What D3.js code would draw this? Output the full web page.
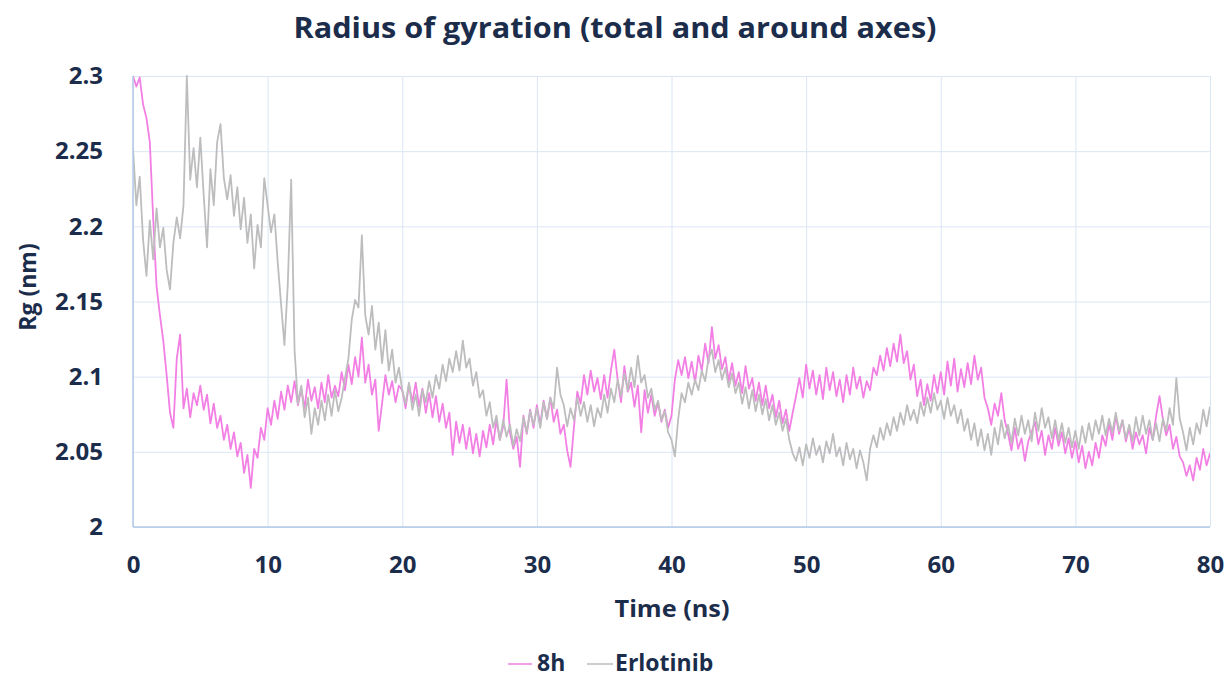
<!DOCTYPE html>
<html>
<head>
<meta charset="utf-8">
<script src="https://cdn.jsdelivr.net/npm/d3@7"></script>
<style>
  html, body { margin: 0; padding: 0; background: #ffffff; }
  svg { display: block; }
  text { font-family: "Open Sans", "Noto Sans", sans-serif; font-weight: 700; fill: #1b2d4b; }
</style>
</head>
<body>
<svg id="chart" width="1229" height="678"></svg>
<script>
// Radius of gyration, sampled every 0.25 ns from 0 to 80 ns
const timeStepNs = 0.25;

const rg8h = [
  2.300, 2.293, 2.299, 2.281, 2.272, 2.256, 2.205, 2.160, 2.141, 2.124, 2.101, 2.076, 2.066, 2.112, 2.128, 2.079, 2.092, 2.073, 2.089, 2.081,
  2.094, 2.078, 2.088, 2.069, 2.082, 2.066, 2.074, 2.058, 2.068, 2.052, 2.063, 2.047, 2.056, 2.036, 2.048, 2.026, 2.052, 2.046, 2.066, 2.058,
  2.079, 2.068, 2.084, 2.072, 2.090, 2.078, 2.094, 2.083, 2.097, 2.081, 2.092, 2.079, 2.098, 2.084, 2.093, 2.079, 2.096, 2.083, 2.101, 2.086,
  2.094, 2.087, 2.103, 2.091, 2.108, 2.095, 2.113, 2.100, 2.126, 2.096, 2.108, 2.088, 2.098, 2.064, 2.082, 2.101, 2.088, 2.097, 2.083, 2.094,
  2.091, 2.079, 2.095, 2.083, 2.096, 2.080, 2.092, 2.076, 2.089, 2.073, 2.087, 2.070, 2.082, 2.066, 2.076, 2.048, 2.070, 2.056, 2.068, 2.052,
  2.066, 2.049, 2.062, 2.047, 2.064, 2.053, 2.068, 2.055, 2.071, 2.058, 2.067, 2.098, 2.063, 2.052, 2.060, 2.040, 2.074, 2.062, 2.078, 2.066,
  2.081, 2.068, 2.084, 2.072, 2.086, 2.070, 2.078, 2.062, 2.068, 2.051, 2.040, 2.066, 2.090, 2.082, 2.101, 2.088, 2.104, 2.090, 2.099, 2.085,
  2.101, 2.086, 2.104, 2.118, 2.098, 2.083, 2.107, 2.090, 2.096, 2.080, 2.094, 2.063, 2.091, 2.076, 2.088, 2.074, 2.083, 2.070, 2.078, 2.066,
  2.074, 2.098, 2.111, 2.101, 2.113, 2.099, 2.110, 2.096, 2.114, 2.104, 2.122, 2.109, 2.133, 2.112, 2.121, 2.105, 2.113, 2.097, 2.109, 2.094,
  2.103, 2.089, 2.107, 2.092, 2.099, 2.084, 2.096, 2.081, 2.094, 2.079, 2.088, 2.073, 2.084, 2.069, 2.078, 2.064, 2.076, 2.087, 2.099, 2.086,
  2.108, 2.092, 2.104, 2.088, 2.101, 2.085, 2.106, 2.091, 2.103, 2.087, 2.098, 2.083, 2.101, 2.088, 2.106, 2.092, 2.100, 2.086, 2.097, 2.091,
  2.106, 2.101, 2.114, 2.104, 2.119, 2.107, 2.122, 2.110, 2.128, 2.109, 2.117, 2.098, 2.108, 2.087, 2.098, 2.081, 2.095, 2.084, 2.101, 2.089,
  2.103, 2.088, 2.110, 2.094, 2.112, 2.090, 2.105, 2.093, 2.109, 2.095, 2.114, 2.098, 2.106, 2.086, 2.079, 2.068, 2.082, 2.074, 2.089, 2.071,
  2.062, 2.051, 2.066, 2.052, 2.059, 2.044, 2.057, 2.063, 2.070, 2.055, 2.064, 2.048, 2.061, 2.052, 2.066, 2.054, 2.063, 2.049, 2.059, 2.046,
  2.057, 2.043, 2.054, 2.039, 2.050, 2.041, 2.056, 2.046, 2.061, 2.054, 2.069, 2.058, 2.074, 2.062, 2.071, 2.057, 2.066, 2.052, 2.063, 2.055,
  2.061, 2.049, 2.066, 2.058, 2.074, 2.087, 2.072, 2.061, 2.068, 2.052, 2.060, 2.047, 2.043, 2.034, 2.041, 2.031, 2.046, 2.038, 2.052, 2.041,
  2.049
];

const rgErlotinib = [
  2.252, 2.214, 2.233, 2.191, 2.167, 2.204, 2.178, 2.212, 2.186, 2.199, 2.171, 2.158, 2.189, 2.206, 2.192, 2.214, 2.300, 2.231, 2.252, 2.226,
  2.259, 2.221, 2.186, 2.238, 2.214, 2.256, 2.268, 2.232, 2.218, 2.234, 2.207, 2.226, 2.198, 2.219, 2.189, 2.208, 2.172, 2.201, 2.186, 2.232,
  2.214, 2.196, 2.208, 2.176, 2.148, 2.121, 2.162, 2.231, 2.118, 2.082, 2.094, 2.073, 2.086, 2.062, 2.079, 2.068, 2.084, 2.071, 2.088, 2.074,
  2.091, 2.077, 2.086, 2.099, 2.112, 2.138, 2.151, 2.146, 2.194, 2.141, 2.128, 2.147, 2.118, 2.136, 2.109, 2.131, 2.104, 2.118, 2.096, 2.106,
  2.091, 2.082, 2.096, 2.078, 2.088, 2.074, 2.091, 2.083, 2.097, 2.086, 2.101, 2.092, 2.108, 2.097, 2.112, 2.103, 2.117, 2.104, 2.124, 2.106,
  2.112, 2.094, 2.103, 2.086, 2.091, 2.074, 2.083, 2.066, 2.074, 2.058, 2.071, 2.060, 2.068, 2.054, 2.065, 2.057, 2.073, 2.063, 2.077, 2.068,
  2.079, 2.066, 2.083, 2.072, 2.086, 2.079, 2.106, 2.088, 2.081, 2.067, 2.079, 2.071, 2.086, 2.074, 2.083, 2.070, 2.081, 2.067, 2.079, 2.073,
  2.088, 2.076, 2.092, 2.083, 2.098, 2.087, 2.102, 2.091, 2.106, 2.093, 2.114, 2.096, 2.101, 2.086, 2.092, 2.078, 2.084, 2.071, 2.077, 2.063,
  2.058, 2.047, 2.072, 2.089, 2.083, 2.096, 2.088, 2.098, 2.091, 2.104, 2.097, 2.112, 2.118, 2.103, 2.111, 2.098, 2.106, 2.093, 2.102, 2.089,
  2.096, 2.082, 2.093, 2.079, 2.091, 2.077, 2.088, 2.075, 2.085, 2.071, 2.081, 2.068, 2.076, 2.064, 2.072, 2.058, 2.049, 2.044, 2.053, 2.041,
  2.055, 2.046, 2.059, 2.048, 2.054, 2.043, 2.057, 2.049, 2.062, 2.047, 2.053, 2.041, 2.056, 2.045, 2.052, 2.039, 2.051, 2.043, 2.031, 2.052,
  2.061, 2.053, 2.066, 2.058, 2.069, 2.061, 2.073, 2.064, 2.076, 2.068, 2.081, 2.071, 2.078, 2.069, 2.083, 2.074, 2.086, 2.076, 2.089, 2.078,
  2.084, 2.072, 2.086, 2.074, 2.081, 2.069, 2.078, 2.064, 2.072, 2.058, 2.069, 2.054, 2.065, 2.051, 2.062, 2.048, 2.066, 2.055, 2.071, 2.059,
  2.068, 2.056, 2.072, 2.061, 2.074, 2.062, 2.071, 2.057, 2.076, 2.064, 2.079, 2.066, 2.073, 2.059, 2.071, 2.058, 2.069, 2.056, 2.066, 2.053,
  2.064, 2.052, 2.067, 2.056, 2.069, 2.058, 2.071, 2.062, 2.074, 2.061, 2.072, 2.063, 2.076, 2.064, 2.071, 2.059, 2.068, 2.057, 2.073, 2.061,
  2.074, 2.062, 2.071, 2.058, 2.069, 2.057, 2.072, 2.064, 2.079, 2.068, 2.099, 2.072, 2.063, 2.051, 2.066, 2.055, 2.069, 2.062, 2.078, 2.067,
  2.080
];

const seriesNames = ["8h", "Erlotinib"];
const seriesColors = ["#f27fe4", "#bdbdbd"];
const xTicks = [0, 10, 20, 30, 40, 50, 60, 70, 80];
const yTicks = [2, 2.05, 2.1, 2.15, 2.2, 2.25, 2.3];
const yTickLabels = ["2", "2.05", "2.1", "2.15", "2.2", "2.25", "2.3"];

const titleText = "Radius of gyration (total and around axes)";
const xTitle = "Time (ns)";
const yTitle = "Rg (nm)";

const svg = d3.select("#chart");
const plot = { left: 133, right: 1210, top: 76, bottom: 527 };

const x = d3.scaleLinear().domain([0, 80]).range([plot.left, plot.right]);
const y = d3.scaleLinear().domain([2, 2.3]).range([plot.bottom, plot.top]);

// Title
svg.append("text")
  .attr("x", 615).attr("y", 38)
  .attr("text-anchor", "middle")
  .attr("font-size", 29)
  .attr("textLength", 643)
  .attr("lengthAdjust", "spacingAndGlyphs")
  .text(titleText);

// Gridlines
const gridColor = "#dbe6f4";
svg.append("g")
  .attr("transform", `translate(0,${plot.bottom})`)
  .call(d3.axisBottom(x).tickValues(xTicks).tickSize(-(plot.bottom - plot.top)).tickFormat(""))
  .call(g => g.select(".domain").remove())
  .call(g => g.selectAll("line").attr("stroke", gridColor).attr("stroke-width", 1));

svg.append("g")
  .attr("transform", `translate(${plot.left},0)`)
  .call(d3.axisLeft(y).tickValues(yTicks).tickSize(-(plot.right - plot.left)).tickFormat(""))
  .call(g => g.select(".domain").remove())
  .call(g => g.selectAll("line").attr("stroke", gridColor).attr("stroke-width", 1));

// Series lines
svg.append("clipPath").attr("id", "plot-clip")
  .append("rect")
  .attr("x", plot.left).attr("y", plot.top - 1)
  .attr("width", plot.right - plot.left).attr("height", plot.bottom - plot.top + 1);

const line = d3.line()
  .x((d, i) => x(i * timeStepNs))
  .y(d => y(d));

const lines = svg.append("g").attr("clip-path", "url(#plot-clip)");
[rg8h, rgErlotinib].forEach((values, k) => {
  lines.append("path")
    .datum(values)
    .attr("fill", "none")
    .attr("stroke", seriesColors[k])
    .attr("stroke-width", 1.8)
    .attr("stroke-linejoin", "round")
    .attr("d", line);
});

// Axis lines
const axisColor = "#b3c9e6";
svg.append("line")
  .attr("x1", plot.left).attr("x2", plot.left)
  .attr("y1", plot.top).attr("y2", plot.bottom)
  .attr("stroke", axisColor).attr("stroke-width", 1.5);
svg.append("line")
  .attr("x1", plot.left).attr("x2", plot.right)
  .attr("y1", plot.bottom).attr("y2", plot.bottom)
  .attr("stroke", axisColor).attr("stroke-width", 1.5);

// Tick labels
const styleTickText = g => g.selectAll("text")
  .attr("font-size", 24)
  .attr("font-family", "'Open Sans', sans-serif")
  .attr("font-weight", 700)
  .attr("fill", "#1b2d4b");

svg.append("g")
  .attr("transform", `translate(0,${plot.bottom})`)
  .call(d3.axisBottom(x).tickValues(xTicks).tickSize(0).tickPadding(29).tickFormat(d3.format("d")))
  .call(g => g.select(".domain").remove())
  .call(styleTickText);

svg.append("g")
  .attr("transform", `translate(${plot.left},0)`)
  .call(d3.axisLeft(y).tickValues(yTicks).tickSize(0).tickPadding(30)
    .tickFormat((d, i) => yTickLabels[i]))
  .call(g => g.select(".domain").remove())
  .call(styleTickText);

// Axis titles
svg.append("text")
  .attr("x", 672).attr("y", 617)
  .attr("text-anchor", "middle")
  .attr("font-size", 24)
  .attr("textLength", 115)
  .attr("lengthAdjust", "spacingAndGlyphs")
  .text(xTitle);

svg.append("text")
  .attr("transform", "translate(36,287) rotate(-90)")
  .attr("text-anchor", "middle")
  .attr("font-size", 23)
  .text(yTitle);

// Legend
const legendItems = [
  { x1: 508, x2: 532, tx: 537 },
  { x1: 587, x2: 613, tx: 615 }
];
legendItems.forEach((it, k) => {
  svg.append("line")
    .attr("x1", it.x1).attr("x2", it.x2)
    .attr("y1", 664).attr("y2", 664)
    .attr("stroke", seriesColors[k]).attr("stroke-width", 1.5);
  svg.append("text")
    .attr("x", it.tx).attr("y", 671)
    .attr("font-size", 23)
    .text(seriesNames[k]);
});
</script>
</body>
</html>
